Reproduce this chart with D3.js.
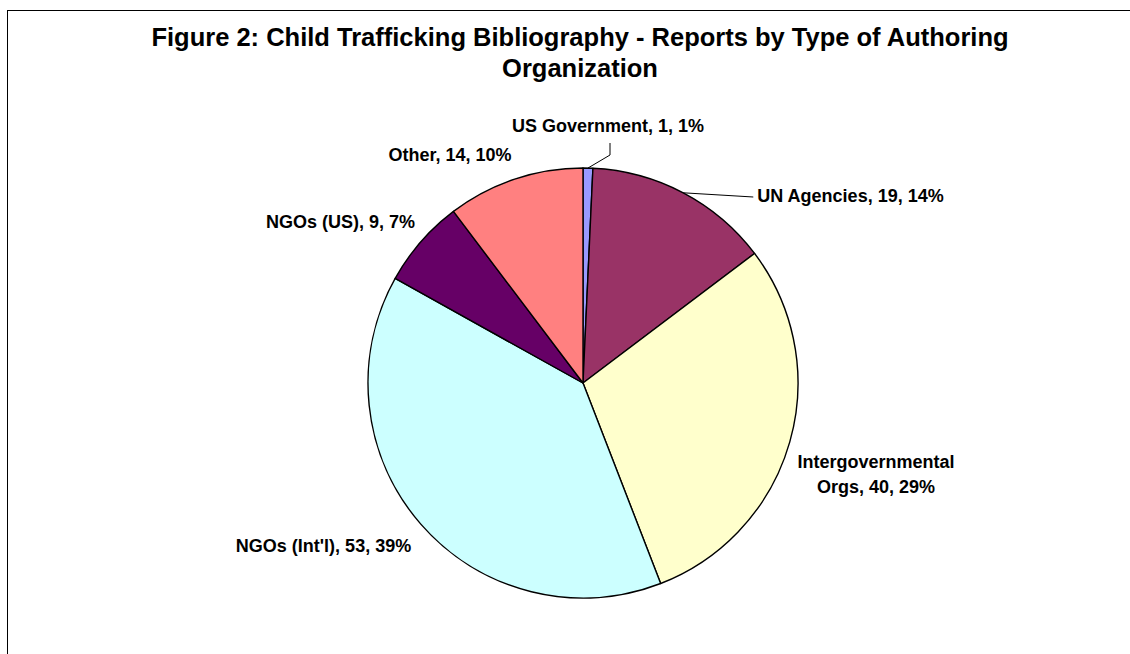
<!DOCTYPE html>
<html>
<head>
<meta charset="utf-8">
<script src="https://cdn.jsdelivr.net/npm/d3@7"></script>
<style>
  html, body { margin: 0; padding: 0; background: #ffffff; }
  svg { display: block; }
  text { font-family: "Liberation Sans", Arial, sans-serif; font-weight: bold; fill: #000; }
</style>
</head>
<body>
<svg id="chart" width="1130" height="654"></svg>
<script>
// Reports by type of authoring organization
const categories = ["US Government", "UN Agencies", "Intergovernmental Orgs", "NGOs (Int'l)", "NGOs (US)", "Other"];
const counts = [1, 19, 40, 53, 9, 14];
const sliceColors = ["#9999FF", "#993366", "#FFFFCC", "#CCFFFF", "#660066", "#FF8080"];
const titleLines = ["Figure 2: Child Trafficking Bibliography - Reports by Type of Authoring", "Organization"];

// Label placement, relative to the pie centre (text centre x, first baseline y)
const labelLayout = [
  { dx: 25, dy: -251, leader: "below" },
  { dx: 267.5, dy: -181, leader: "left" },
  { dx: 293, dy: 85, wrap: true },
  { dx: -259.5, dy: 169 },
  { dx: -242.5, dy: -155 },
  { dx: -133, dy: -222 }
];

const W = 1130, H = 654;
const cx = 583, cy = 383, R = 215;
const labelSize = 18;

const svg = d3.select("#chart");

// chart frame
svg.append("rect")
  .attr("x", 7.5).attr("y", 10.5)
  .attr("width", 1200).attr("height", 800)
  .attr("fill", "none").attr("stroke", "#000").attr("stroke-width", 1);

// title
svg.append("g").selectAll("text")
  .data(titleLines)
  .join("text")
  .attr("x", 580)
  .attr("y", (d, i) => 46 + i * 31)
  .attr("text-anchor", "middle")
  .attr("font-size", 25.5)
  .text(d => d);

const data = categories.map((c, i) => ({ category: c, value: counts[i], color: sliceColors[i], layout: labelLayout[i] }));
const total = d3.sum(counts);

const pie = d3.pie().sort(null).value(d => d.value).startAngle(0).endAngle(2 * Math.PI);
const arcs = pie(data);

const arc = d3.arc().innerRadius(0).outerRadius(R);
const edge = d3.arc().innerRadius(R).outerRadius(R);

const g = svg.append("g").attr("transform", `translate(${cx},${cy})`);

g.selectAll("path.slice")
  .data(arcs)
  .join("path")
  .attr("class", "slice")
  .attr("d", arc)
  .attr("fill", d => d.data.color)
  .attr("stroke", "#000")
  .attr("stroke-width", 1.4)
  .attr("stroke-linejoin", "round");

// data labels: "Category, value, percent"
const labels = g.append("g");
arcs.forEach(d => {
  const L = d.data.layout;
  const pct = Math.round(d.data.value / total * 100);
  const full = `${d.data.category}, ${d.data.value}, ${pct}%`;
  let lines = [full];
  if (L.wrap) {
    const k = full.indexOf(" ");
    lines = [full.slice(0, k), full.slice(k + 1)];
  }
  const t = labels.append("text")
    .attr("text-anchor", "middle")
    .attr("font-size", labelSize);
  lines.forEach((ln, i) => {
    t.append("tspan").attr("x", L.dx).attr("y", L.dy + i * 25).text(ln);
  });

  // leader lines
  if (L.leader) {
    const p = edge.centroid(d);
    const bb = t.node().getBBox();
    let pts;
    if (L.leader === "below") {
      const lx = L.dx + 2;
      pts = [p, [lx, L.dy + 23], [lx, L.dy + 11]];
    } else {
      pts = [p, [bb.x - 4, L.dy - 5]];
    }
    labels.append("path")
      .attr("d", d3.line()(pts))
      .attr("fill", "none")
      .attr("stroke", "#000")
      .attr("stroke-width", 1);
  }
});
</script>
</body>
</html>
